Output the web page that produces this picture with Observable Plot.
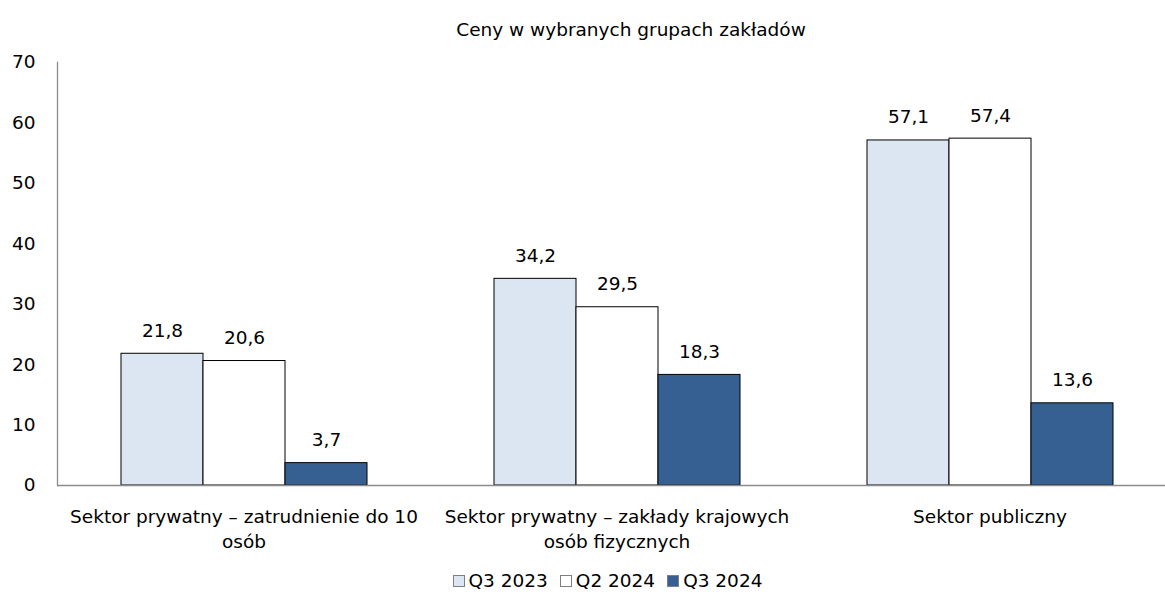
<!DOCTYPE html>
<html><head><meta charset="utf-8">
<script src="https://cdn.jsdelivr.net/npm/d3@7"></script>
<script src="https://cdn.jsdelivr.net/npm/@observablehq/plot@0.6"></script>
<style>
body{margin:0;overflow:hidden;background:#fff;font-family:"DejaVu Sans",sans-serif;color:#000;width:1165px;height:594px}
#title{height:25px;padding-top:20px;line-height:20px;font-size:18.5px;text-align:center;padding-left:97px;width:1068px}
#chart{width:1165px;overflow:hidden}
#chart svg{display:block;max-width:none !important}
#legend{margin-top:12px;height:18px;line-height:18px;font-size:18.5px;display:flex;justify-content:center;padding-left:50px;width:1115px}
.item{display:flex;align-items:center;margin:0 6px}
.sw{width:12px;height:12px;border:1px solid #7f7f7f;margin-right:4px;box-sizing:border-box}
</style></head>
<body>
<div id="title">Ceny w wybranych grupach zakładów</div>
<div id="chart"></div>
<div id="legend"></div>
<script>
const categories = ["Sektor prywatny – zatrudnienie do 10 osób", "Sektor prywatny – zakłady krajowych osób fizycznych", "Sektor publiczny"];
const tickLabels = ["Sektor prywatny – zatrudnienie do 10\nosób", "Sektor prywatny – zakłady krajowych\nosób fizycznych", "Sektor publiczny"];
const series = ["Q3 2023", "Q2 2024", "Q3 2024"];
const colors = ["#dce6f2", "#ffffff", "#376092"];
const q3_2023 = [21.8, 34.2, 57.1];
const q2_2024 = [20.6, 29.5, 57.4];
const q3_2024 = [3.7, 18.3, 13.6];
const yTicks = [0, 10, 20, 30, 40, 50, 60, 70];

const seriesValues = [q3_2023, q2_2024, q3_2024];
const data = [];
categories.forEach((c, i) => series.forEach((s, j) => data.push({cat: c, series: s, value: seriesValues[j][i]})));
const fmt = v => v.toFixed(1).replace(".", ",");
const FS = 18.5;

const chart = Plot.plot({
  width: 1176,
  height: 515,
  marginLeft: 56,
  marginRight: 0,
  marginTop: 17,
  marginBottom: 75,
  style: {fontFamily: '"DejaVu Sans",sans-serif', fontSize: FS + "px", color: "#000", background: "#fff", maxWidth: "none"},
  fx: {domain: categories, padding: 0, label: null},
  x: {domain: series, paddingInner: 0, paddingOuter: 0.756, axis: null},
  y: {domain: [0, 70], label: null},
  color: {domain: series, range: colors},
  marks: [
    Plot.axisY({ticks: yTicks, tickSize: 0, tickPadding: 22, fontSize: FS, label: null}),
    Plot.axisFx({anchor: "bottom", tickSize: 0, tickPadding: 20, fontSize: FS, lineHeight: 1.35, label: null,
      tickFormat: d => tickLabels[categories.indexOf(d)]}),
    Plot.barY(data, {fx: "cat", x: "series", y: "value", fill: "series", stroke: "#000", strokeWidth: 1}),
    Plot.ruleY([0], {stroke: "#8c8c8c", strokeWidth: 1.3}),
    Plot.frame({anchor: "left", facetAnchor: "left", stroke: "#8c8c8c", strokeWidth: 1.3}),
    Plot.text(data, {fx: "cat", x: "series", y: "value", text: d => fmt(d.value), lineAnchor: "bottom", dy: -17, fontSize: FS, fill: "#000"})
  ]
});
document.getElementById("chart").appendChild(chart);

const legend = document.getElementById("legend");
series.forEach((s, j) => {
  const it = document.createElement("div");
  it.className = "item";
  const sw = document.createElement("span");
  sw.className = "sw";
  sw.style.background = colors[j];
  it.appendChild(sw);
  const t = document.createElement("span");
  t.textContent = s;
  it.appendChild(t);
  legend.appendChild(it);
});
</script>
</body></html>
